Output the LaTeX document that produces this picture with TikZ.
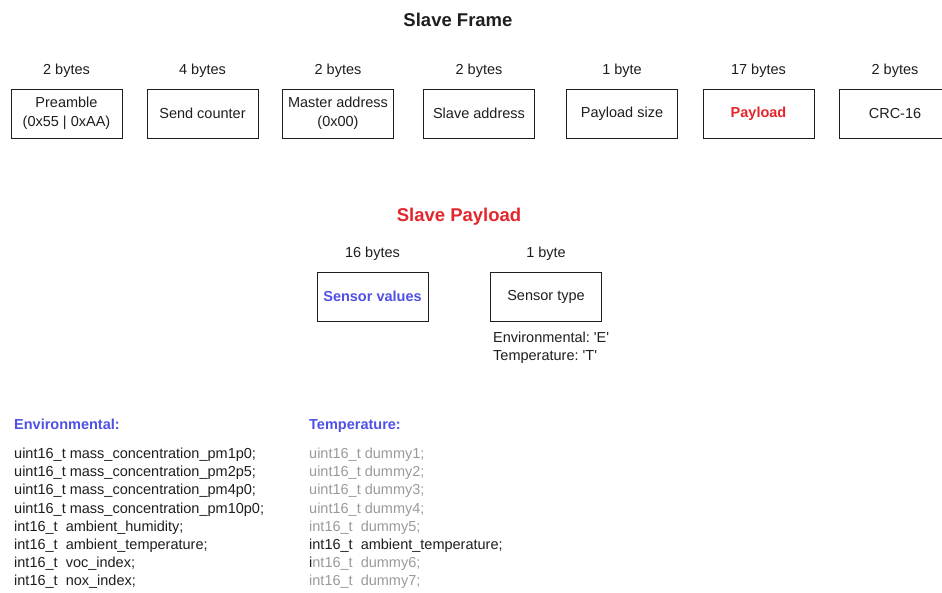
\documentclass[tikz,border=0pt]{standalone}
\usepackage{fontspec}
\setmainfont{Liberation Sans}
\frenchspacing
\definecolor{ink}{HTML}{1E1E1E}
\definecolor{framered}{HTML}{E3262B}
\definecolor{fieldblue}{HTML}{5050E6}
\definecolor{dimtext}{HTML}{9A9A9A}
\begin{document}
\begin{tikzpicture}[x=1pt,y=-1pt,
  every node/.style={text=ink, inner sep=0pt},
  field/.style={draw=ink, line width=0.9pt, minimum width=111pt, minimum height=49pt,
    align=center, font=\fontsize{14.5}{19}\selectfont},
  size/.style={anchor=base, font=\fontsize{14.5}{17}\selectfont},
  heading/.style={anchor=base, font=\fontsize{18.5}{22}\selectfont\bfseries},
  code/.style={anchor=base west, font=\fontsize{14.5}{18}\selectfont},
  codehead/.style={anchor=base west, text=fieldblue, font=\fontsize{14.5}{18}\selectfont\bfseries}
]
\useasboundingbox (0,0) rectangle (942,593);

% frame layout
\node[heading] (frametitle) at (458,27) {Slave Frame};

\node[field] (pre)  at (66.5,113.5) {Preamble\\(0x55 | 0xAA)};
\node[field] (cnt)  at (202.5,113.5) {Send counter};
\node[field] (madr) at (338,113.5) {Master address\\(0x00)};
\node[field] (sadr) at (479,113.5) {Slave address};
\node[field] (psz)  at (622,113.5) {Payload size};
\node[field, text=framered, font=\fontsize{14.5}{19}\selectfont\bfseries] (pay) at (758.5,113.5) {Payload};
\node[field] (crc)  at (895,113.5) {CRC-16};

\node[size] (prelen)  at (66.5,75)  {2 bytes};
\node[size] (cntlen)  at (202.5,75) {4 bytes};
\node[size] (madrlen) at (338,75)   {2 bytes};
\node[size] (sadrlen) at (479,75)   {2 bytes};
\node[size] (pszlen)  at (622,75)   {1 byte};
\node[size] (paylen)  at (758.5,75) {17 bytes};
\node[size] (crclen)  at (895,75)   {2 bytes};

% payload layout
\node[heading, text=framered] (paytitle) at (459,222) {Slave Payload};

\node[field, text=fieldblue, font=\fontsize{14.5}{19}\selectfont\bfseries] (vals) at (372.5,296.5) {Sensor values};
\node[field] (stype) at (546,296.5) {Sensor type};
\node[size] (valslen)  at (372.5,258) {16 bytes};
\node[size] (stypelen) at (546,258)   {1 byte};

\node[code] (typeE) at (493,343) {Environmental: \textquotesingle E\textquotesingle};
\node[code] (typeT) at (493,360) {Temperature: \textquotesingle T\textquotesingle};

% environmental sensor values
\node[codehead] (envhead) at (14,429) {Environmental:};
\foreach \txt [count=\i] in {
    uint16\_t mass\_concentration\_pm1p0;,
    uint16\_t mass\_concentration\_pm2p5;,
    uint16\_t mass\_concentration\_pm4p0;,
    uint16\_t mass\_concentration\_pm10p0;,
    int16\_t\ \ ambient\_humidity;,
    int16\_t\ \ ambient\_temperature;,
    int16\_t\ \ voc\_index;,
    int16\_t\ \ nox\_index;}
  \node[code] (env\i) at (14,{458.5+18.2*(\i-1)}) {\txt};

% temperature sensor values
\node[codehead] (temphead) at (309,429) {Temperature:};
\foreach \txt [count=\i] in {
    {\color{dimtext}uint16\_t dummy1;},
    {\color{dimtext}uint16\_t dummy2;},
    {\color{dimtext}uint16\_t dummy3;},
    {\color{dimtext}uint16\_t dummy4;},
    {\color{dimtext}int16\_t\ \ dummy5;},
    {int16\_t\ \ ambient\_temperature;},
    {i\color{dimtext}nt16\_t\ \ dummy6;},
    {\color{dimtext}int16\_t\ \ dummy7;}}
  \node[code] (temp\i) at (309,{458.5+18.2*(\i-1)}) {\txt};
\end{tikzpicture}
\end{document}
